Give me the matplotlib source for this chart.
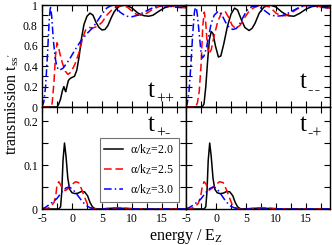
import matplotlib
matplotlib.use('Agg')
import matplotlib.pyplot as plt
from matplotlib.ticker import MultipleLocator

plt.rcParams['font.family'] = ['Liberation Serif', 'DejaVu Serif']
plt.rcParams['mathtext.default'] = 'regular'
plt.rcParams['axes.unicode_minus'] = False

# ---- data ----
alphas = ['2.0', '2.5', '3.0']

# t++
e_pp_20 = [-5, -2.5, -2.2, -1.9, -1.6, -1.35, -1.2, -1.05, -0.85, -0.6, -0.3, 0.0, 0.4, 0.8, 1.2, 1.6, 2.0, 2.5, 3.0,
           3.5, 4.0, 4.5, 5.0, 5.5, 6.0, 6.5, 7.0, 7.5, 8.0, 9.0, 10.0, 11.0, 12.0, 12.8, 13.5, 14.5, 15.5, 16.5, 17.5, 19.0]
t_pp_20 = [0, 0, 0.03, 0.08, 0.16, 0.20, 0.17, 0.15, 0.2, 0.26, 0.28, 0.29, 0.3, 0.36, 0.5, 0.68, 0.81, 0.89, 0.92,
           0.9, 0.83, 0.78, 0.755, 0.76, 0.8, 0.87, 0.93, 0.97, 0.99, 1.0, 0.97, 0.92, 0.895, 0.89, 0.9, 0.94, 0.975, 0.99, 0.995, 0.985]
e_pp_25 = [-5, -3.5, -3.3, -3.0, -2.75, -2.5, -2.3, -2.0, -1.6, -1.1, -0.7, -0.2, 0.5, 1.2, 1.8, 2.3, 2.8, 3.5, 4.2,
           5.0, 5.8, 6.6, 7.4, 8.3, 9.2, 10.0, 10.8, 11.5, 12.5, 13.5, 14.5, 15.5, 16.5, 17.5, 18.5, 19.0]
t_pp_25 = [0, 0, 0.04, 0.25, 0.5, 0.63, 0.6, 0.52, 0.43, 0.35, 0.32, 0.34, 0.42, 0.54, 0.68, 0.76, 0.78, 0.775, 0.79,
           0.83, 0.9, 0.95, 0.985, 0.995, 0.98, 0.94, 0.905, 0.9, 0.92, 0.96, 0.985, 0.995, 0.99, 0.98, 0.975, 0.97]
e_pp_30 = [-5, -4.7, -4.4, -4.1, -3.8, -3.6, -3.4, -3.1, -2.8, -2.5, -2.1, -1.5, -0.5, 0.5, 1.5, 2.5, 3.5, 4.2, 5.0,
           5.8, 6.5, 7.3, 8.0, 9.0, 10.0, 11.0, 12.0, 13.0, 14.0, 15.0, 16.0, 17.0, 18.0, 19.0]
t_pp_30 = [0, 0.05, 0.2, 0.5, 0.85, 0.99, 0.9, 0.65, 0.48, 0.39, 0.36, 0.38, 0.46, 0.56, 0.65, 0.72, 0.78, 0.84, 0.91,
           0.97, 0.995, 0.98, 0.93, 0.89, 0.885, 0.9, 0.93, 0.96, 0.985, 0.995, 0.99, 0.98, 0.975, 0.975]

# t--
e_mm_20 = [-5, -2.3, -2.0, -1.7, -1.4, -1.1, -0.8, -0.5, -0.1, 0.4, 0.8, 1.3, 1.9, 2.5, 3.1, 3.6, 4.2, 4.8, 5.5, 6.0,
           6.5, 7.2, 8.0, 9.0, 10.0, 11.0, 12.0, 13.0, 14.0, 15.0, 16.0, 17.0, 18.0, 19.0]
t_mm_20 = [0, 0, 0.03, 0.2, 0.45, 0.66, 0.74, 0.72, 0.6, 0.49, 0.5, 0.62, 0.79, 0.91, 0.97, 0.95, 0.86, 0.78, 0.75, 0.77,
           0.82, 0.92, 0.98, 1.0, 0.98, 0.93, 0.895, 0.89, 0.92, 0.96, 0.985, 0.99, 0.985, 0.98]
e_mm_25 = [-5, -3.4, -3.1, -2.8, -2.5, -2.2, -1.95, -1.7, -1.45, -1.2, -0.8, -0.3, 0.3, 0.9, 1.5, 2.1, 2.7, 3.3, 4.0,
           4.7, 5.4, 6.2, 7.0, 8.0, 9.0, 10.0, 10.8, 11.6, 12.5, 13.5, 14.5, 15.5, 16.5, 17.5, 18.5, 19.0]
t_mm_25 = [0, 0, 0.04, 0.15, 0.4, 0.8, 0.93, 0.82, 0.6, 0.52, 0.56, 0.7, 0.84, 0.92, 0.94, 0.88, 0.8, 0.77, 0.8,
           0.87, 0.93, 0.97, 0.99, 0.995, 0.98, 0.92, 0.895, 0.895, 0.92, 0.96, 0.99, 1.0, 0.995, 0.98, 0.97, 0.97]
e_mm_30 = [-5, -4.8, -4.5, -4.2, -3.9, -3.6, -3.35, -3.1, -2.8, -2.5, -2.3, -2.0, -1.6, -1.2, -0.8, -0.3, 0.4, 1.0, 1.6,
           2.2, 2.8, 3.4, 4.0, 4.6, 5.2, 6.0, 7.0, 8.0, 9.0, 10.0, 11.0, 12.0, 13.0, 14.0, 15.0, 16.0, 17.0, 18.0, 19.0]
t_mm_30 = [0, 0.03, 0.15, 0.4, 0.7, 0.93, 1.0, 0.9, 0.72, 0.54, 0.48, 0.5, 0.58, 0.7, 0.82, 0.9, 0.94, 0.9, 0.83,
           0.78, 0.76, 0.77, 0.82, 0.89, 0.95, 0.985, 0.99, 0.95, 0.905, 0.89, 0.895, 0.92, 0.95, 0.98, 0.995, 0.99, 0.98, 0.975, 0.975]

# t+-
e_pm_20 = [-5, -2.2, -1.9, -1.7, -1.5, -1.25, -1.0, -0.7, -0.4, 0.0, 0.5, 1.0, 1.6, 2.1, 2.6, 3.0, 3.4, 3.8, 4.5,
           7.0, 8.0, 9.0, 10.0, 19.0]
t_pm_20 = [0, 0, 0.005, 0.04, 0.11, 0.15, 0.12, 0.07, 0.045, 0.037, 0.035, 0.036, 0.04, 0.039, 0.03, 0.015, 0.005, 0.001, 0,
           0.002, 0.002, 0.001, 0, 0]
e_pm_25 = [-5, -4.0, -3.5, -3.0, -2.7, -2.5, -2.2, -1.9, -1.5, -1.1, -0.6, 0.0, 0.6, 1.1, 1.6, 2.1, 2.6, 3.1, 3.6,
           5.0, 7.0, 8.0, 9.0, 10.0, 11.0, 19.0]
t_pm_25 = [0, 0.002, 0.006, 0.015, 0.03, 0.055, 0.062, 0.055, 0.045, 0.042, 0.047, 0.056, 0.062, 0.06, 0.045, 0.027, 0.01, 0.003, 0.0005,
           0, 0.002, 0.003, 0.002, 0.001, 0, 0]
e_pm_30 = [-5, -4.5, -4.0, -3.5, -3.0, -2.5, -2.0, -1.5, -1.0, -0.5, 0.0, 0.5, 1.0, 1.5, 2.0, 2.5, 3.0, 3.5, 4.0, 19.0]
t_pm_30 = [0.001, 0.003, 0.008, 0.013, 0.018, 0.024, 0.033, 0.042, 0.048, 0.05, 0.046, 0.039, 0.03, 0.021, 0.013, 0.007, 0.003, 0.001, 0, 0]

# t-+
e_mp_20 = [-5, -2.0, -1.7, -1.5, -1.3, -1.05, -0.8, -0.5, -0.2, 0.2, 0.7, 1.2, 1.8, 2.3, 2.8, 3.2, 3.6, 4.0, 4.5,
           7.0, 8.0, 9.0, 10.0, 19.0]
t_mp_20 = [0, 0, 0.005, 0.04, 0.11, 0.15, 0.12, 0.07, 0.045, 0.037, 0.035, 0.036, 0.04, 0.039, 0.03, 0.015, 0.005, 0.001, 0,
           0.002, 0.002, 0.001, 0, 0]
e_mp_25 = [-5, -4.0, -3.5, -3.0, -2.6, -2.3, -2.0, -1.7, -1.4, -1.1, -0.6, 0.0, 0.6, 1.2, 1.7, 2.2, 2.7, 3.2, 3.7,
           5.0, 7.0, 8.0, 9.0, 10.0, 11.0, 19.0]
t_mp_25 = [0, 0.002, 0.005, 0.012, 0.025, 0.05, 0.062, 0.058, 0.046, 0.043, 0.048, 0.056, 0.062, 0.06, 0.045, 0.027, 0.01, 0.003, 0.0005,
           0, 0.002, 0.003, 0.002, 0.001, 0, 0]
e_mp_30 = [-5, -4.5, -4.0, -3.5, -3.0, -2.5, -2.0, -1.5, -1.0, -0.5, 0.0, 0.5, 1.0, 1.5, 2.0, 2.5, 3.0, 3.5, 4.0, 19.0]
t_mp_30 = [0.001, 0.003, 0.007, 0.012, 0.017, 0.023, 0.032, 0.041, 0.047, 0.05, 0.048, 0.04, 0.03, 0.02, 0.012, 0.006, 0.003, 0.001, 0, 0]

panels = [
    ('++', [(e_pp_20, t_pp_20), (e_pp_25, t_pp_25), (e_pp_30, t_pp_30)]),
    ('-\u200a-', [(e_mm_20, t_mm_20), (e_mm_25, t_mm_25), (e_mm_30, t_mm_30)]),
    ('+-', [(e_pm_20, t_pm_20), (e_pm_25, t_pm_25), (e_pm_30, t_pm_30)]),
    ('-+', [(e_mp_20, t_mp_20), (e_mp_25, t_mp_25), (e_mp_30, t_mp_30)]),
]

colors = ['black', 'red', 'blue']
styles = ['-', (0, (5, 2.5)), (0, (5, 2, 1, 2))]

W, H = 332, 245
fig = plt.figure(figsize=(W / 100, H / 100), dpi=100)

x0, xm, x1 = 42, 186, 330
yt, ym, yb = 5, 107, 209
boxes = [(x0, yt, xm, ym), (xm, yt, x1, ym), (x0, ym, xm, yb), (xm, ym, x1, yb)]

axes = []
for i, (name, series) in enumerate(panels):
    l, t, r, b = boxes[i]
    ax = fig.add_axes([l / W, 1 - b / H, (r - l) / W, (b - t) / H])
    for (e, v), c, ls, a in zip(series, colors, styles, alphas):
        ax.plot(e, v, color=c, ls=ls, lw=1.1, label=r'α/k$_Z$=' + a)
    ax.set_xlim(-5, 19)
    ax.xaxis.set_major_locator(MultipleLocator(5))
    ax.xaxis.set_minor_locator(MultipleLocator(2.5))
    if i < 2:
        ax.set_ylim(0, 1)
        ax.yaxis.set_major_locator(MultipleLocator(0.2))
        ax.yaxis.set_minor_locator(MultipleLocator(0.1))
        ax.set_yticks([0, 0.2, 0.4, 0.6, 0.8, 1.0])
        ax.set_yticklabels(['0', '0.2', '0.4', '0.6', '0.8', '1'])
    else:
        ax.set_ylim(0, 0.232)
        ax.yaxis.set_major_locator(MultipleLocator(0.1))
        ax.yaxis.set_minor_locator(MultipleLocator(0.05))
        ax.set_yticks([0, 0.1, 0.2])
        ax.set_yticklabels(['0', '0.1', '0.2'])
    ax.tick_params(which='both', direction='in', top=True, right=True, width=0.8, labelsize=8.5)
    ax.tick_params(which='major', length=4, pad=3)
    ax.tick_params(which='minor', length=4)
    if i < 2:
        ax.tick_params(labelbottom=False)
    if i % 2 == 1:
        ax.tick_params(labelleft=False)
    for s in ax.spines.values():
        s.set_linewidth(1.0)
    axes.append(ax)

    # panel name, big t with small subscript
    tx = 0.735 if i % 2 == 0 else 0.79
    ty = 0.1 if i < 2 else 0.76
    if i == 1:
        ty = 0.19
    ax.text(tx, ty, 't', transform=ax.transAxes, fontsize=18, ha='left', va='baseline')
    ax.text(tx + 0.055, ty - 0.065, name, transform=ax.transAxes, fontsize=11.5, ha='left', va='baseline')

leg = axes[2].legend(loc='upper left', bbox_to_anchor=(0.40, 0.70), borderaxespad=0, fontsize=8.5,
                     handlelength=1.6, labelspacing=0.45, handletextpad=0.6, borderpad=0.4,
                     fancybox=False, framealpha=1)
leg.get_frame().set_edgecolor('0.45')
leg.get_frame().set_linewidth(0.8)

fig.text(12 / W, 1 - 104 / H, "transmission t$_{ss'}$", rotation=90, ha='center', va='center', fontsize=11.5)
fig.text(186 / W, 1 - 236 / H, 'energy / E$_Z$', ha='center', va='center', fontsize=11.5)

fig.savefig('out.png', dpi=100)
